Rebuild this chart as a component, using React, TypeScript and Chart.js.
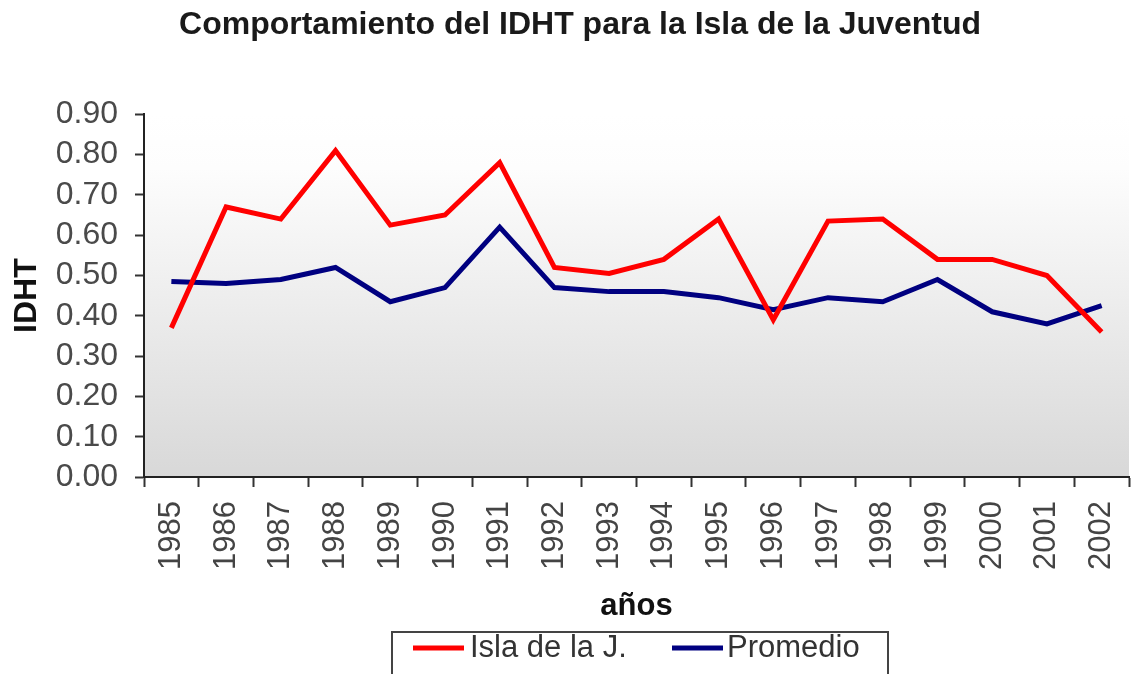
import React, { useEffect, useRef } from "react";
import { Chart, registerables } from "chart.js";

Chart.register(...registerables);

const years = ["1985","1986","1987","1988","1989","1990","1991","1992","1993","1994","1995","1996","1997","1998","1999","2000","2001","2002"];
const islaValues = [0.37,0.67,0.64,0.81,0.625,0.65,0.78,0.52,0.505,0.54,0.64,0.39,0.635,0.64,0.54,0.54,0.50,0.36];
const promedioValues = [0.485,0.48,0.49,0.52,0.435,0.47,0.62,0.47,0.46,0.46,0.445,0.415,0.445,0.435,0.49,0.41,0.38,0.425];
const seriesNames = ["Isla de la J.", "Promedio"];
const seriesColors = ["#ff0000", "#000080"];
const titleText = "Comportamiento del IDHT para la Isla de la Juventud";
const yTitle = "IDHT";
const xTitle = "años";

const FONT = "'Liberation Sans', Arial, sans-serif";

const bgPlugin = {
  id: "bgGradient",
  beforeDraw(chart: any) {
    const { ctx, chartArea } = chart;
    if (!chartArea) return;
    const g = ctx.createLinearGradient(0, chartArea.top, 0, chartArea.bottom);
    g.addColorStop(0, "#ffffff");
    g.addColorStop(0.15, "#fdfdfd");
    g.addColorStop(1, "#d8d8d8");
    ctx.save();
    ctx.fillStyle = g;
    ctx.fillRect(chartArea.left, chartArea.top, chartArea.right - chartArea.left, chartArea.bottom - chartArea.top);
    ctx.restore();
  },
};

const titlePlugin = {
  id: "customTitle",
  afterDraw(chart: any) {
    const { ctx } = chart;
    ctx.save();
    ctx.font = `bold 32px ${FONT}`;
    ctx.textAlign = "center";
    ctx.textBaseline = "middle";
    ctx.fillStyle = "#1a1a1a";
    ctx.fillText(titleText, 580, 25);
    ctx.restore();
  },
};

const legendPlugin = {
  id: "boxLegend",
  afterDraw(chart: any) {
    const { ctx } = chart;
    ctx.save();
    ctx.strokeStyle = "#444";
    ctx.lineWidth = 2;
    ctx.strokeRect(392, 632, 496, 80);
    const items = [
      { x: 413, tx: 470 },
      { x: 672, tx: 727 },
    ];
    chart.data.datasets.forEach((ds: any, i: number) => {
      const it = items[i];
      ctx.strokeStyle = ds.borderColor;
      ctx.lineWidth = 5;
      ctx.beginPath();
      ctx.moveTo(it.x, 648);
      ctx.lineTo(it.x + 51, 648);
      ctx.stroke();
      ctx.fillStyle = "#333";
      ctx.font = `31px ${FONT}`;
      ctx.textBaseline = "middle";
      ctx.textAlign = "left";
      ctx.fillText(ds.label, it.tx, 648);
    });
    ctx.restore();
  },
};

export default function App() {
  const ref = useRef<HTMLCanvasElement>(null);
  useEffect(() => {
    if (!ref.current) return;
    const chart = new Chart(ref.current, {
      type: "line",
      data: {
        labels: years,
        datasets: [
          { label: seriesNames[0], data: islaValues, borderColor: seriesColors[0], backgroundColor: seriesColors[0], borderWidth: 5, pointRadius: 0, tension: 0, fill: false },
          { label: seriesNames[1], data: promedioValues, borderColor: seriesColors[1], backgroundColor: seriesColors[1], borderWidth: 5, pointRadius: 0, tension: 0, fill: false },
        ],
      },
      options: {
        responsive: false,
        animation: false,
        devicePixelRatio: 1,
        layout: { padding: { left: 0, right: 8, top: 114.3, bottom: 0 } },
        plugins: {
          legend: { display: false },
          tooltip: { enabled: false },
          title: { display: false },
        },
        scales: {
          x: {
            offset: true,
            grid: { display: true, offset: true, drawOnChartArea: false, drawTicks: true, tickLength: 10, tickColor: "#333", tickWidth: 2 },
            border: { display: true, color: "#222", width: 2 },
            ticks: { minRotation: 90, maxRotation: 90, autoSkip: false, padding: 14, color: "#444", font: { family: FONT, size: 31 } },
            title: { display: true, text: xTitle, color: "#111", font: { family: FONT, size: 31, weight: "bold", lineHeight: 1.2 }, padding: { top: 0, bottom: 49.4 } },
            afterFit(scale: any) { scale.height = 197; scale.paddingLeft = 0; scale.paddingRight = 0; },
          },
          y: {
            min: 0,
            max: 0.9,
            grid: { display: true, drawOnChartArea: false, drawTicks: true, tickLength: 9, tickColor: "#333", tickWidth: 2 },
            border: { display: true, color: "#222", width: 2 },
            ticks: { stepSize: 0.1, autoSkip: false, maxTicksLimit: 20, padding: 17, color: "#4a4a4a", font: { family: FONT, size: 32, lineHeight: 1 }, callback: (v: any) => Number(v).toFixed(2) },
            title: { display: true, text: yTitle, color: "#111", font: { family: FONT, size: 32, weight: "bold", lineHeight: 1.2 }, padding: { top: 8.3, bottom: 0 } },
            afterFit(scale: any) { scale.width = 144; },
          },
        },
      },
      plugins: [bgPlugin, titlePlugin, legendPlugin],
    });
    return () => chart.destroy();
  }, []);
  return (
    <div style={{ position: "fixed", left: 0, top: 0, width: 1137, height: 674, overflow: "hidden", background: "#fff" }}>
      <canvas ref={ref} width={1137} height={674} style={{ display: "block" }} />
    </div>
  );
}
